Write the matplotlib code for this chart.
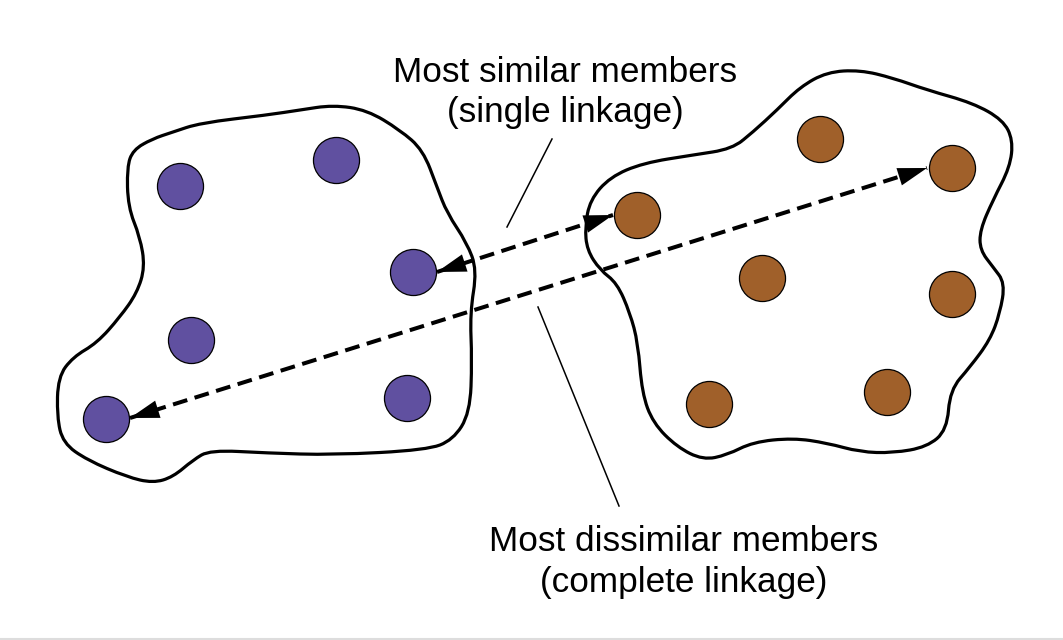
import numpy as np
import matplotlib
matplotlib.use("Agg")
import matplotlib.pyplot as plt
from matplotlib.path import Path
from matplotlib.patches import PathPatch, FancyArrowPatch

# cluster members (pixel coordinates, y downwards)
purple_x = [180, 336, 413, 191, 407, 106]
purple_y = [186, 160, 272, 340, 398, 419]
brown_x = [820, 952, 637, 762, 952, 709, 887]
brown_y = [139, 168, 215, 278, 294, 404, 392]

# hand traced cluster outlines
left_blob = [(152, 139), (173, 132), (200, 123), (267, 115), (300, 110), (333, 105),
             (367, 110), (400, 130), (423, 150), (437, 187), (447, 213), (467, 243),
             (477, 270), (470, 313), (472, 360), (470, 413), (453, 440), (427, 450),
             (333, 455), (267, 453), (210, 450), (193, 460), (173, 477), (153, 483),
             (127, 477), (87, 460), (63, 443), (57, 417), (58, 377), (73, 357),
             (97, 343), (120, 317), (137, 293), (145, 267), (140, 237), (128, 207),
             (127, 167), (133, 150)]
right_blob = [(732, 149), (693, 155), (643, 163), (610, 177), (590, 200), (585, 227),
              (587, 250), (600, 270), (617, 283), (630, 313), (638, 343), (642, 393),
              (653, 423), (677, 447), (703, 460), (727, 455), (753, 442), (793, 438),
              (827, 443), (860, 452), (893, 453), (927, 447), (947, 430), (950, 390),
              (970, 367), (990, 340), (1000, 313), (1005, 283), (993, 267), (980, 250),
              (980, 230), (993, 200), (1010, 167), (1013, 140), (1003, 120), (973, 103),
              (927, 90), (893, 78), (860, 70), (827, 72), (800, 87), (777, 110), (753, 132)]

# linkage arrows: (start tip, end tip)
single_link = [(437, 272), (613, 215)]
complete_link = [(130, 418), (927, 168)]

labels_top = ["Most similar members", "(single linkage)"]
labels_bottom = ["Most dissimilar members", "(complete linkage)"]
leader_top = [(552, 139), (507, 227)]
leader_bottom = [(538, 307), (619, 506)]

PURPLE = "#6050a0"
BROWN = "#a0602a"

plt.rcParams["font.family"] = ["Liberation Sans", "DejaVu Sans"]

fig = plt.figure(figsize=(10.63, 6.40), dpi=100)
ax = fig.add_axes([0, 0, 1, 1])
ax.set_xlim(0, 1063)
ax.set_ylim(640, 0)
ax.axis("off")


def smooth_outline(pts):
    # quadratic b-spline through midpoints, closed
    pts = np.asarray(pts, float)
    n = len(pts)
    mids = (pts + np.roll(pts, -1, axis=0)) / 2
    verts = [mids[-1]]
    codes = [Path.MOVETO]
    for i in range(n):
        verts += [pts[i], mids[i]]
        codes += [Path.CURVE3, Path.CURVE3]
    return Path(verts, codes)


for blob in [left_blob, right_blob]:
    ax.add_patch(PathPatch(smooth_outline(blob), fill=False, lw=2.3, ec="black",
                           joinstyle="round", zorder=2))

ax.scatter(purple_x, purple_y, s=1100, c=PURPLE, edgecolors="black", linewidths=0.9, zorder=4)
ax.scatter(brown_x, brown_y, s=1100, c=BROWN, edgecolors="black", linewidths=0.9, zorder=4)


def draw_link(a, b):
    (x0, y0), (x1, y1) = a, b
    ax.plot([x0, x1], [y0, y1], color="black", lw=2.9,
            linestyle=(0, (3.7, 1.9)), zorder=3)
    d = np.array([x1 - x0, y1 - y0], float)
    d /= np.hypot(*d)
    for tip, sgn in [((x1, y1), 1), ((x0, y0), -1)]:
        back = (tip[0] - sgn * d[0] * 30, tip[1] - sgn * d[1] * 30)
        ax.add_patch(FancyArrowPatch(back, tip, arrowstyle="-|>,head_length=21,head_width=6.5",
                                     mutation_scale=1, lw=0, color="black",
                                     shrinkA=0, shrinkB=0, zorder=5))


draw_link(*single_link)
draw_link(*complete_link)

for ld in [leader_top, leader_bottom]:
    ax.plot([ld[0][0], ld[1][0]], [ld[0][1], ld[1][1]], color="black", lw=1.1, zorder=3)

for i, t in enumerate(labels_top):
    ax.text(565, 82 + 40 * i, t, ha="center", va="baseline", fontsize=25.3)
for i, t in enumerate(labels_bottom):
    ax.text(684, 551 + 41 * i, t, ha="center", va="baseline", fontsize=25.3)

ax.axhline(638.5, color="#dddddd", lw=1.5)

fig.savefig("out.png", dpi=100)
